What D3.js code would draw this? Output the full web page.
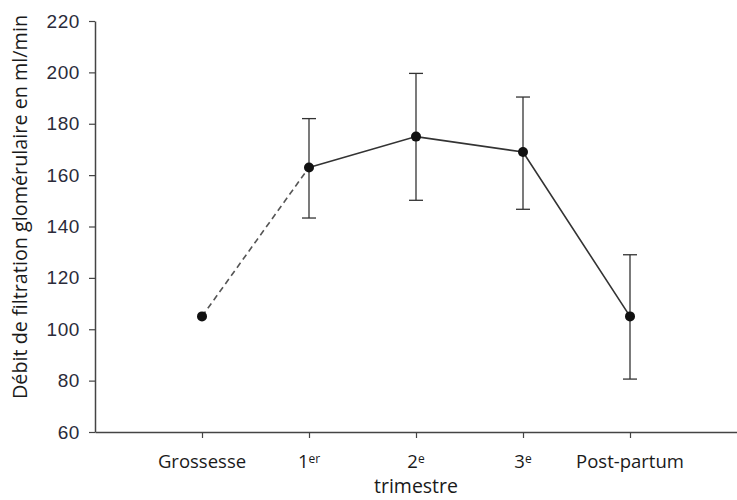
<!DOCTYPE html>
<html>
<head>
<meta charset="utf-8">
<script src="https://cdn.jsdelivr.net/npm/d3@7"></script>
<style>
  body { margin: 0; background: #fff; }
  svg { display: block; }
</style>
</head>
<body>
<svg id="chart" width="737" height="500"></svg>
<script>
// data
let categories = ['Grossesse', '1er', '2e', '3e', 'Post-partum']
let tickMain = ['Grossesse', '1', '2', '3', 'Post-partum']
let tickSup = ['', 'er', 'e', 'e', '']
let gfr = [105, 163, 175, 169, 105]
let errLow = [null, 143.3, 150.2, 146.7, 80.6]
let errHigh = [null, 182, 199.6, 190.4, 129]
let yTicks = [60, 80, 100, 120, 140, 160, 180, 200, 220]

let svg = d3.select('#chart')
let ink = '#333'

let plotLeft = 95, plotRight = 737, plotTop = 21, plotBottom = 432

let x = d3.scalePoint()
    .domain(categories)
    .range([plotLeft, plotRight])
    .padding(1)

let y = d3.scaleLinear()
    .domain([60, 220])
    .range([plotBottom, plotTop])

// y axis
let yAxis = svg.append('g')
    .attr('transform', 'translate(' + plotLeft + ',0)')
    .call(d3.axisLeft(y).tickValues(yTicks).tickSize(6).tickSizeOuter(0).tickPadding(9))
yAxis.select('.domain').attr('stroke', '#444').attr('stroke-width', 1.5)
yAxis.selectAll('.tick line').attr('stroke', '#444').attr('stroke-width', 1.2)
yAxis.selectAll('.tick text')
    .attr('fill', '#2b2b3a')
    .style('font-family', 'Liberation Sans, Arial, sans-serif')
    .style('font-size', '19px')
    .style('letter-spacing', '0.6px')

// x axis
let xAxis = svg.append('g')
    .attr('transform', 'translate(0,' + plotBottom + ')')
    .call(d3.axisBottom(x).tickSize(6).tickSizeOuter(0).tickFormat(''))
xAxis.select('.domain').attr('stroke', '#444').attr('stroke-width', 1.5)
xAxis.selectAll('.tick line').attr('stroke', '#444').attr('stroke-width', 1.2)

// x tick labels with superscripts
let labels = svg.append('g')
    .selectAll('text')
    .data(categories)
    .enter()
    .append('text')
    .attr('x', d => x(d))
    .attr('y', 468)
    .attr('text-anchor', 'middle')
    .attr('fill', '#1a1a1a')
    .style('font-family', 'Open Sans, Noto Sans, sans-serif')
    .style('font-size', '18.5px')

labels.append('tspan').text((d, i) => tickMain[i])
labels.append('tspan')
    .text((d, i) => tickSup[i])
    .attr('dy', '-0.45em')
    .style('font-size', '12px')

// axis titles
svg.append('text')
    .attr('x', x('2e'))
    .attr('y', 493)
    .attr('text-anchor', 'middle')
    .attr('fill', '#1a1a1a')
    .style('font-family', 'Open Sans, Noto Sans, sans-serif')
    .style('font-size', '19.5px')
    .text('trimestre')

svg.append('text')
    .attr('transform', 'translate(27,' + 207 + ') rotate(-90)')
    .attr('text-anchor', 'middle')
    .attr('fill', '#1a1a1a')
    .style('font-family', 'Open Sans, Noto Sans, sans-serif')
    .style('font-size', '19.8px')
    .text('Débit de filtration glomérulaire en ml/min')

// error bars
let capW = 7
let errIdx = categories.map((c, i) => i).filter(i => errLow[i] !== null)
let bars = svg.append('g')
    .selectAll('g')
    .data(errIdx)
    .enter()
    .append('g')
    .attr('stroke', ink)
    .attr('stroke-width', 1.3)

bars.append('line')
    .attr('x1', i => x(categories[i])).attr('x2', i => x(categories[i]))
    .attr('y1', i => y(errLow[i])).attr('y2', i => y(errHigh[i]))
bars.append('line')
    .attr('x1', i => x(categories[i]) - capW).attr('x2', i => x(categories[i]) + capW)
    .attr('y1', i => y(errHigh[i])).attr('y2', i => y(errHigh[i]))
bars.append('line')
    .attr('x1', i => x(categories[i]) - capW).attr('x2', i => x(categories[i]) + capW)
    .attr('y1', i => y(errLow[i])).attr('y2', i => y(errLow[i]))

// lines: dashed from pregnancy start to 1st trimester, solid afterwards
let pts = categories.map((c, i) => [x(c), y(gfr[i])])
let line = d3.line()

svg.append('path')
    .attr('d', line(pts.slice(0, 2)))
    .attr('fill', 'none')
    .attr('stroke', '#555')
    .attr('stroke-width', 1.6)
    .attr('stroke-dasharray', '6,4')

svg.append('path')
    .attr('d', line(pts.slice(1)))
    .attr('fill', 'none')
    .attr('stroke', ink)
    .attr('stroke-width', 1.6)

// points
svg.append('g')
    .selectAll('circle')
    .data(pts)
    .enter()
    .append('circle')
    .attr('cx', d => d[0])
    .attr('cy', d => d[1])
    .attr('r', 5)
    .attr('fill', '#111')
</script>
</body>
</html>
